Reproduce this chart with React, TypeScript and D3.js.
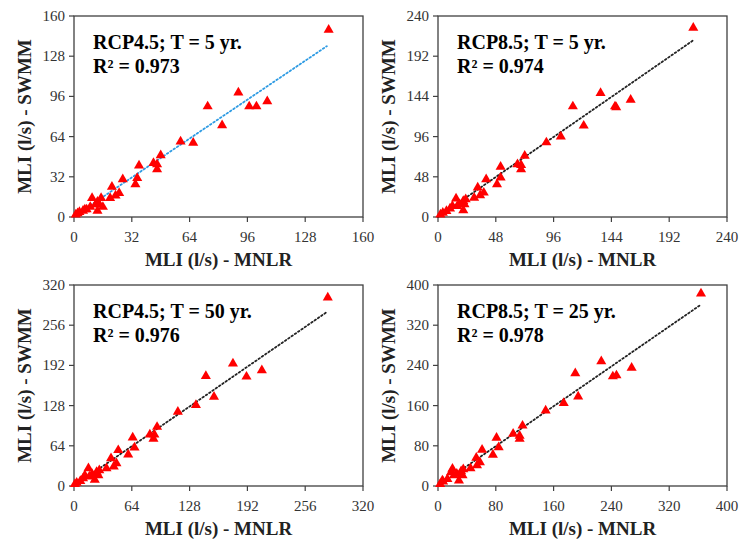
import React from 'react';
import * as d3 from 'd3';

// panel 1: RCP4.5, T = 5 yr
const p1X = [141, 91, 74, 97, 101, 107, 82, 59, 66, 48, 44, 46, 46, 36, 35, 34, 27, 21, 25, 23, 20, 10, 15, 13, 14, 16, 13, 9, 7, 5, 3, 2, 1, 6, 12];
const p1Y = [149, 99, 88, 88, 88, 92, 73, 60, 59, 49, 43, 42, 38, 41, 31, 26, 30, 24, 19, 17, 15, 15, 15, 12, 10, 8, 5, 8, 6, 5, 4, 3, 2, 6, 10];

// panel 2: RCP8.5, T = 5 yr
const p2X = [212, 135, 112, 147, 148, 160, 121, 102, 90, 72, 66, 69, 69, 52, 52, 49, 40, 33, 38, 35, 30, 15, 23, 21, 22, 21, 18, 16, 10, 7, 4, 2, 12];
const p2Y = [226, 148, 132, 132, 131, 140, 109, 96, 89, 73, 63, 62, 57, 60, 47, 39, 45, 35, 29, 26, 23, 22, 21, 19, 15, 8, 15, 13, 10, 7, 5, 3, 13];

// panel 3: RCP4.5, T = 50 yr
const p3X = [281, 176, 146, 191, 208, 155, 135, 115, 92, 84, 88, 89, 65, 67, 60, 49, 41, 47, 44, 36, 16, 28, 25, 27, 23, 20, 17, 10, 7, 3, 1, 12];
const p3Y = [300, 195, 175, 174, 184, 142, 129, 118, 94, 82, 75, 82, 77, 61, 50, 57, 44, 36, 31, 28, 28, 25, 22, 17, 10, 19, 15, 12, 8, 5, 3, 17];

// panel 4: RCP8.5, T = 25 yr
const p4X = [364, 226, 190, 242, 247, 268, 194, 174, 149, 117, 113, 113, 104, 81, 84, 76, 61, 53, 58, 54, 45, 20, 35, 32, 34, 29, 26, 22, 13, 7, 3, 18, 6];
const p4Y = [383, 248, 224, 218, 220, 235, 178, 165, 150, 120, 100, 94, 104, 96, 77, 62, 72, 56, 47, 41, 35, 34, 33, 29, 21, 11, 24, 21, 14, 9, 4, 27, 11];

const scenarios = ['RCP4.5; T = 5 yr.', 'RCP8.5; T = 5 yr.', 'RCP4.5; T = 50 yr.', 'RCP8.5; T = 25 yr.'];
const r2Values = ['0.973', '0.974', '0.976', '0.978'];
const axisMax = [160, 240, 320, 400];
const tickStep = [32, 48, 64, 80];
const trendX = [[0, 140], [0, 212], [0, 279], [0, 363]];
const trendY = [[0.5, 136], [0, 211], [0, 276], [0, 360]];
const trendColor = ['#2e9be3', '#222', '#222', '#222'];

const panelX = [p1X, p2X, p3X, p4X];
const panelY = [p1Y, p2Y, p3Y, p4Y];

const W = 741, H = 540;
const lefts = [74, 438, 74, 438];
const tops = [16, 16, 285, 285];
const pw = 289, ph = 201;
const serif = '"Liberation Serif", "Times New Roman", serif';
const tri = d3.symbol().type(d3.symbolTriangle).size(44)();

function Panel({ i }: { i: number }) {
  const max = axisMax[i];
  const x = d3.scaleLinear().domain([0, max]).range([0, pw]);
  const y = d3.scaleLinear().domain([0, max]).range([ph, 0]);
  const ticks = d3.range(0, max + 1, tickStep[i]);
  const line = d3.line<number>().x((d) => x(d)).y((d, k) => y(trendY[i][k]));

  return (
    <g transform={`translate(${lefts[i]},${tops[i]})`}>
      <rect x={0} y={0} width={pw} height={ph} fill="none" stroke="#404040" strokeWidth={1.3} />
      {ticks.map((t) => (
        <g key={'x' + t}>
          <line x1={x(t)} x2={x(t)} y1={ph} y2={ph + 5} stroke="#404040" strokeWidth={1.2} />
          <text x={x(t)} y={ph + 25} textAnchor="middle" fontSize={15} fill="#333">{t}</text>
        </g>
      ))}
      {ticks.map((t) => (
        <g key={'y' + t}>
          <line x1={-5} x2={0} y1={y(t)} y2={y(t)} stroke="#404040" strokeWidth={1.2} />
          <text x={-9} y={y(t) + 5} textAnchor="end" fontSize={15} fill="#333">{t}</text>
        </g>
      ))}
      <path d={line(trendX[i]) || ''} fill="none" stroke={trendColor[i]} strokeWidth={1.8}
        strokeDasharray="1.6,2.4" strokeLinecap="round" />
      {panelX[i].map((v, k) => (
        <path key={k} d={tri} transform={`translate(${x(v)},${y(panelY[i][k])})`} fill="#ff0000" />
      ))}
      <text x={19} y={33} fontSize={20} fontWeight="bold" fill="#000">{scenarios[i]}</text>
      <text x={19} y={57} fontSize={20} fontWeight="bold" fill="#000">R² = {r2Values[i]}</text>
      <text x={pw / 2} y={250} textAnchor="middle" fontSize={19} fontWeight="bold" fill="#222">MLI (l/s) - MNLR</text>
      <text transform={`translate(${-43},${ph / 2}) rotate(-90)`} textAnchor="middle" fontSize={19}
        fontWeight="bold" fill="#222">MLI (l/s) - SWMM</text>
    </g>
  );
}

export default function App() {
  return (
    <svg width={W} height={H} style={{ position: 'absolute', left: 0, top: 0, background: '#fff' }}
      fontFamily={serif}>
      {[0, 1, 2, 3].map((i) => <Panel key={i} i={i} />)}
    </svg>
  );
}
